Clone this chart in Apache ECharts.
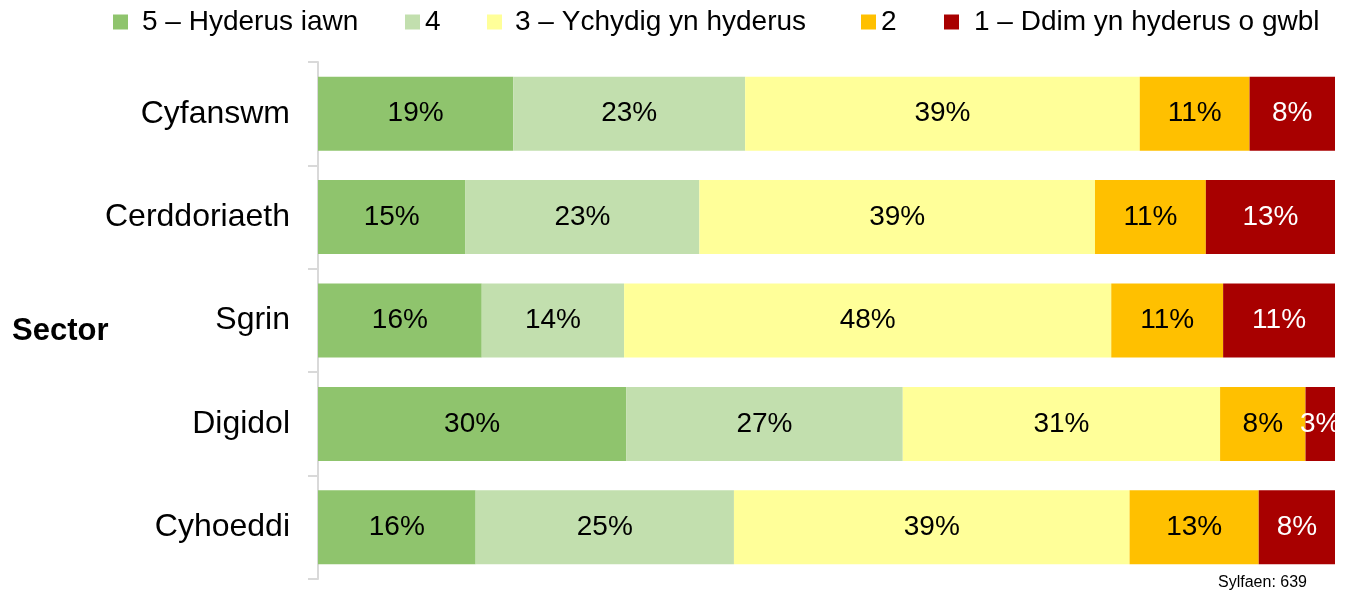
<!DOCTYPE html>
<html>
<head>
<meta charset="utf-8">
<script src="https://cdn.jsdelivr.net/npm/echarts@6/dist/echarts.min.js"></script>
<style>
    html, body { margin: 0; padding: 0; background: #fff; }
    #chart { width: 1352px; height: 592px; }
</style>
</head>
<body>
<div id="chart"></div>
<script>
// categories (top to bottom)
var sectors = ['Cyfanswm', 'Cerddoriaeth', 'Sgrin', 'Digidol', 'Cyhoeddi'];
var seriesNames = ['5 – Hyderus iawn', '4', '3 – Ychydig yn hyderus', '2', '1 – Ddim yn hyderus o gwbl'];

// percentages per confidence level, one value per sector
var hyderusIawn = [19.2, 14.5, 16.1, 30.3, 15.5];
var pedwar = [22.8, 23.0, 14.0, 27.2, 25.4];
var ychydig = [38.8, 38.9, 47.9, 31.2, 38.9];
var dau = [10.8, 10.9, 11.0, 8.4, 12.7];
var ddimOGwbl = [8.4, 12.7, 11.0, 2.9, 7.5];

var colors = ['#8fc46d', '#c2dfae', '#ffff99', '#ffc000', '#a80000'];
var labelColors = ['#000', '#000', '#000', '#000', '#fff'];
var allData = [hyderusIawn, pedwar, ychydig, dau, ddimOGwbl];

// legend positions (Excel spacing is uneven)
var legendLeft = [113, 405, 487, 861, 944];
var legendPad = [9, 0, 8, 0, 10];

var font = "'Liberation Sans', Arial, sans-serif";

var chart = echarts.init(document.getElementById('chart'));

var legends = [];
var series = [];
for (var i = 0; i < seriesNames.length; i++) {
    legends.push({
        data: [seriesNames[i]],
        left: legendLeft[i],
        top: 8,
        padding: 0,
        icon: 'rect',
        itemWidth: 15,
        itemHeight: 15,
        selectedMode: false,
        textStyle: {
            fontFamily: font,
            fontSize: 28,
            color: '#000',
            padding: [0, 0, 0, legendPad[i]]
        }
    });
    series.push({
        name: seriesNames[i],
        type: 'bar',
        stack: 'total',
        barWidth: 74,
        data: allData[i],
        itemStyle: { color: colors[i] },
        label: {
            show: true,
            position: 'inside',
            fontFamily: font,
            fontSize: 28,
            color: labelColors[i],
            formatter: function (p) {
                return Math.round(p.value) + '%';
            }
        },
        emphasis: { disabled: true }
    });
}

chart.setOption({
    animation: false,
    title: [{
        text: 'Sector',
        left: 7,
        top: 311,
        textStyle: { fontFamily: font, fontSize: 31, fontWeight: 'bold', color: '#000' }
    }, {
        text: 'Sylfaen: 639',
        right: 40,
        top: 570,
        textStyle: { fontFamily: font, fontSize: 16, fontWeight: 'normal', color: '#000' }
    }],
    legend: legends,
    grid: {
        left: 318,
        right: 17,
        top: 62,
        bottom: 13,
        containLabel: false
    },
    xAxis: {
        type: 'value',
        min: 0,
        max: 100,
        show: false
    },
    yAxis: {
        type: 'category',
        inverse: true,
        data: sectors,
        axisLine: { show: true, lineStyle: { color: '#d9d9d9', width: 2 } },
        axisTick: { show: true, length: 10, lineStyle: { color: '#d9d9d9', width: 2 } },
        axisLabel: { fontFamily: font, fontSize: 32, color: '#000', margin: 28 }
    },
    series: series
});
</script>
</body>
</html>
